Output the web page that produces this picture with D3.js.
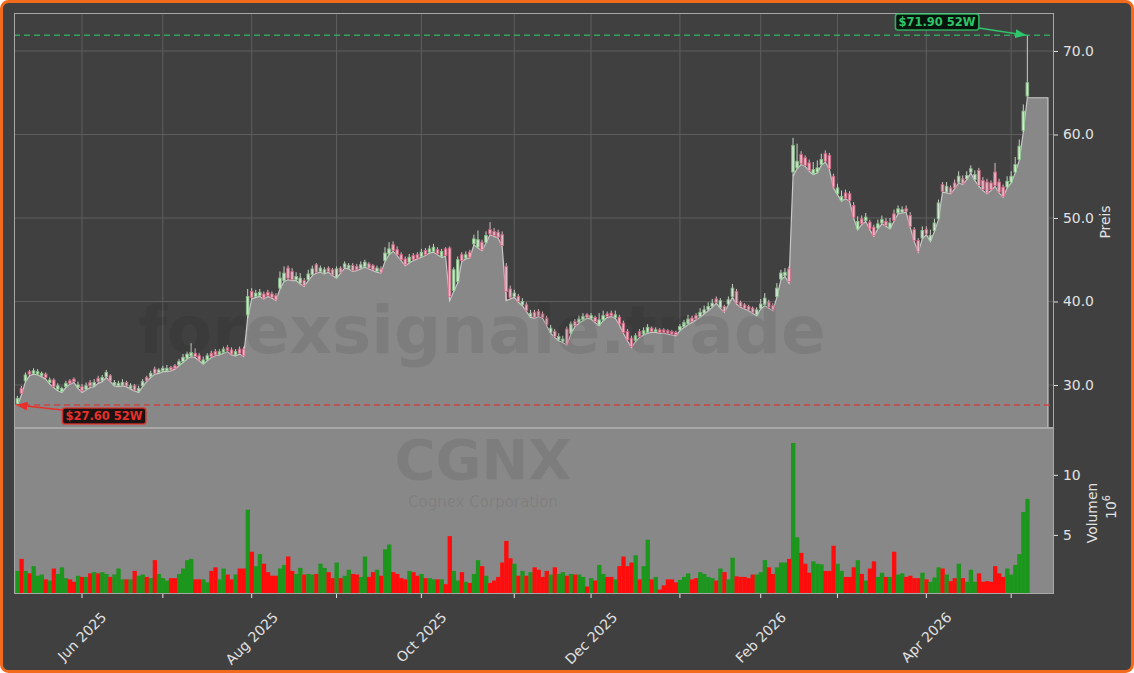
<!DOCTYPE html>
<html><head><meta charset="utf-8">
<script src="https://cdn.jsdelivr.net/npm/d3@7"></script>
<style>html,body{margin:0;padding:0;background:#ffffff;} svg{display:block;font-family:"DejaVu Sans",sans-serif;}</style>
</head><body><svg id="c" width="1134" height="673"></svg>
<script>
// ---- data (one entry per trading day, 8 May 2025 .. 7 May 2026) ----
const low = [27.6,28.8,30.4,31.1,31.3,31.2,31.0,30.7,30.1,29.7,
29.3,29.1,29.7,30.1,30.3,29.6,29.1,29.4,29.7,29.8,
30.2,30.4,30.9,30.4,29.9,29.8,29.9,29.8,29.5,29.3,
29.1,29.8,30.4,30.9,31.3,31.4,31.6,31.6,31.7,31.9,
32.3,32.7,33.1,33.4,33.3,32.9,32.5,32.9,33.3,33.5,
33.6,33.8,34.0,33.6,33.5,33.7,33.4,38.0,40.3,40.5,
40.6,40.3,40.6,40.4,40.1,41.5,42.4,42.6,42.5,42.5,
42.1,41.8,42.5,43.1,43.4,43.5,43.3,43.5,43.1,42.8,
43.4,44.0,43.9,43.6,43.7,43.9,44.1,43.9,43.7,43.5,
43.4,44.8,45.6,46.0,45.5,44.9,44.3,44.6,44.9,45.1,
45.3,45.5,45.8,45.9,45.6,45.3,45.4,40.1,41.2,42.2,
44.8,45.1,45.2,46.8,46.4,46.1,47.0,48.0,47.8,47.6,
46.6,40.1,40.3,40.5,39.9,39.5,38.8,38.1,38.0,38.2,
38.0,37.1,36.2,35.7,35.3,35.1,34.8,36.1,37.0,37.4,
37.7,38.0,37.9,37.5,37.1,37.7,38.1,38.2,38.0,37.2,
36.2,35.3,34.5,35.2,35.7,36.0,36.2,36.3,36.3,36.2,
36.2,36.1,36.0,35.9,36.5,36.9,37.2,37.5,37.8,38.1,
38.5,38.9,39.3,39.8,39.2,38.7,39.6,40.5,39.7,39.3,
39.1,38.9,38.6,38.3,39.1,39.5,39.2,38.9,40.5,42.6,
43.0,42.2,55.0,55.9,56.4,56.2,55.6,55.2,55.4,56.3,
56.7,55.8,53.6,52.8,52.0,52.3,52.0,50.0,48.6,49.2,
49.6,48.6,47.8,48.7,49.3,49.0,48.7,49.6,50.5,50.6,
50.7,48.9,47.2,45.9,47.5,48.0,47.2,48.4,49.8,53.1,
53.0,52.9,53.5,54.2,54.0,54.6,55.4,54.5,53.8,53.3,
52.9,53.3,53.8,53.0,52.5,53.6,54.2,55.4,56.9,60.3,
64.4];
const open = [27.8,29.6,30.5,31.6,31.4,31.3,31.1,31.3,30.3,30.6,
29.5,29.2,29.8,30.5,30.7,29.7,29.8,29.5,30.3,29.9,
30.8,30.5,31.0,31.1,30.0,29.9,30.0,30.3,29.6,29.9,
29.2,29.9,30.9,31.0,31.9,31.5,31.7,31.7,32.1,32.3,
32.4,32.8,33.2,33.5,33.8,33.5,32.6,33.0,33.8,34.0,
33.7,33.9,34.5,34.2,33.6,34.3,34.3,38.4,41.2,40.6,
40.7,40.9,41.1,40.9,40.7,41.6,42.5,44.0,43.6,42.6,
42.2,42.5,42.6,43.2,44.4,43.6,43.4,44.0,43.8,42.9,
44.0,44.1,44.0,44.3,44.2,44.0,44.2,44.5,44.3,43.6,
43.9,44.9,45.7,46.8,46.2,45.6,45.1,44.7,45.5,45.6,
45.4,46.1,45.9,46.0,46.2,45.4,46.3,46.4,41.3,42.4,
45.6,45.2,45.9,46.9,46.5,47.1,47.1,48.6,48.4,48.3,
48.0,44.2,41.5,40.6,40.6,39.6,39.6,38.2,38.7,38.8,
38.5,38.0,36.3,36.4,35.4,35.2,36.7,36.2,37.6,37.5,
37.8,38.4,38.0,38.1,37.2,37.8,38.5,38.6,38.1,38.1,
37.4,36.4,35.6,35.3,36.4,36.1,36.3,36.8,36.4,36.6,
36.6,36.5,36.4,36.3,36.6,37.0,37.3,38.0,38.3,38.2,
38.6,39.0,39.4,40.3,39.3,39.4,39.7,40.6,41.2,39.9,
39.6,39.4,39.2,38.4,39.2,39.6,39.9,39.5,40.6,42.7,
43.1,43.9,55.5,56.0,57.6,57.2,56.6,55.3,55.5,56.4,
57.7,57.5,55.0,52.9,52.1,53.0,52.9,51.5,48.7,49.9,
49.7,49.5,48.9,48.8,49.4,49.6,48.8,50.5,50.6,50.7,
51.1,50.3,48.6,47.3,47.6,48.6,47.3,48.5,49.9,54.0,
53.1,53.6,54.2,54.3,54.7,54.7,55.5,54.6,55.7,54.5,
54.3,54.2,55.5,54.3,53.7,53.7,54.3,55.5,57.0,60.5,
64.6];
const close = [28.4,29.0,31.2,31.3,31.7,31.6,31.4,30.9,30.6,29.8,
29.9,29.6,30.2,30.2,30.4,30.0,29.3,29.9,29.9,30.3,
30.4,30.9,31.5,30.5,30.3,30.2,30.3,29.9,29.9,29.4,
29.6,30.4,30.5,31.4,31.4,31.8,32.0,32.0,31.8,32.0,
32.8,33.3,33.7,33.9,33.4,33.0,33.0,33.5,33.4,33.6,
34.0,34.3,34.1,33.7,34.0,33.8,33.5,40.6,40.5,41.0,
41.1,40.4,40.7,40.5,40.2,42.8,43.4,42.8,42.6,43.0,
42.8,41.9,43.3,43.9,43.5,44.0,43.8,43.6,43.2,43.9,
43.5,44.5,44.3,43.7,43.8,44.4,44.7,44.0,43.8,44.0,
43.5,45.8,46.3,46.1,45.6,45.0,44.4,45.3,45.0,45.2,
45.9,45.6,46.3,46.5,45.7,46.0,45.5,40.6,43.8,45.0,
44.9,45.6,45.3,47.5,47.4,46.2,47.9,48.1,47.9,47.7,
46.7,41.2,40.5,41.0,40.0,40.0,38.9,38.6,38.1,38.3,
38.1,37.2,36.8,35.8,35.8,35.5,34.9,37.3,37.1,37.9,
38.2,38.1,38.3,37.6,37.8,38.3,38.2,38.3,38.4,37.3,
36.3,35.4,34.6,35.9,35.8,36.5,36.9,36.4,36.6,36.3,
36.3,36.2,36.1,36.0,37.0,37.5,37.9,37.6,37.9,38.7,
39.0,39.4,39.8,39.9,40.1,38.8,40.2,41.6,39.8,39.4,
39.2,39.0,38.7,39.0,39.7,40.4,39.3,39.0,41.6,43.4,
43.5,42.4,58.7,56.8,56.5,56.3,55.7,55.8,56.0,57.0,
56.8,55.9,53.7,53.6,52.6,52.4,52.1,50.1,49.6,49.3,
50.1,48.7,47.9,49.3,49.8,49.1,49.4,49.7,51.1,51.0,
50.8,49.0,47.3,46.0,48.5,48.1,47.9,49.4,51.8,53.2,
53.8,53.0,53.6,55.0,54.1,55.1,55.9,55.2,53.9,53.4,
53.0,53.4,53.9,53.1,52.6,54.4,55.0,56.4,58.6,62.8,
66.2];
const high = [28.7,29.9,31.5,31.8,32.0,31.9,31.6,31.5,30.9,30.8,
30.2,29.8,30.5,30.7,30.9,30.4,30.1,30.3,30.6,30.7,
31.1,31.2,31.8,31.3,30.6,30.5,30.7,30.5,30.2,30.1,
29.9,30.7,31.1,31.7,32.2,32.0,32.3,32.4,32.3,32.5,
33.1,33.7,34.0,35.0,34.4,33.8,33.4,33.8,34.1,34.3,
34.3,34.6,34.8,34.5,34.3,34.6,34.6,41.5,41.6,41.4,
41.5,41.2,41.4,41.2,41.0,43.6,44.2,44.3,44.0,43.5,
43.4,42.8,43.8,44.3,44.6,44.3,44.1,44.2,44.0,44.2,
44.2,44.8,44.6,44.6,44.5,44.8,45.0,44.7,44.5,44.3,
44.2,46.5,47.1,47.2,46.6,45.9,45.4,45.7,45.8,45.9,
46.3,46.4,46.7,46.9,46.5,46.3,46.5,46.6,44.1,45.4,
45.9,46.0,46.2,48.0,48.5,47.4,48.4,49.5,48.8,48.6,
48.4,44.6,41.9,41.4,40.9,40.4,39.9,39.0,39.0,39.1,
38.8,38.3,37.2,36.7,36.2,35.9,37.0,37.6,37.9,38.3,
38.6,38.6,38.6,38.3,38.6,38.9,38.8,38.9,38.9,38.4,
37.7,36.7,35.9,36.2,36.7,36.9,37.3,37.0,36.9,36.8,
36.8,36.7,36.6,36.5,37.3,37.8,38.4,38.3,38.6,39.2,
39.5,39.9,40.3,40.6,40.4,39.6,40.6,42.1,41.5,40.1,
39.8,39.6,39.4,39.3,40.3,41.0,40.2,39.8,42.2,43.8,
44.0,44.2,59.6,58.9,58.0,57.5,57.0,56.7,56.9,57.7,
58.1,57.8,55.3,54.1,53.3,53.4,53.2,51.9,50.2,50.3,
50.6,49.8,49.2,49.8,50.3,50.0,50.0,51.0,51.5,51.4,
51.5,50.7,48.9,47.6,49.0,49.0,48.6,49.9,52.2,54.3,
54.3,53.9,54.6,55.6,55.1,55.6,56.3,55.7,56.0,54.9,
54.7,54.5,56.6,54.7,54.0,55.0,55.6,57.3,59.4,63.6,
71.9];
const volume = [2.0,3.0,2.0,1.8,2.4,1.6,1.7,1.3,1.2,2.2,
1.75,2.3,1.4,1.3,1.1,1.6,1.5,1.5,1.8,1.9,
1.8,1.9,1.75,1.5,1.7,2.2,1.3,1.3,1.3,2.0,
1.6,1.7,1.5,1.4,2.9,1.75,1.4,1.2,1.4,1.4,
1.75,2.2,2.9,3.0,1.3,1.3,1.3,1.05,2.0,2.3,
1.3,2.2,1.7,1.3,1.7,2.2,2.2,7.1,3.6,2.4,
3.4,2.6,1.9,1.6,1.6,2.2,2.5,3.2,2.0,1.75,
2.25,1.7,1.75,1.7,1.75,2.6,2.25,1.9,1.4,2.7,
1.4,1.6,2.1,1.75,1.7,1.5,3.2,1.5,1.9,2.1,
1.6,3.8,4.2,1.9,1.75,1.4,1.3,2.0,1.9,1.6,
1.75,1.4,1.4,1.3,1.3,1.3,0.9,4.9,2.0,1.2,
1.9,1.1,1.0,1.75,2.9,2.4,1.6,1.0,1.2,1.5,
2.7,4.5,3.05,2.6,1.6,2.0,1.6,1.9,2.3,2.1,
1.5,2.0,1.7,2.3,1.75,1.9,1.6,1.75,1.7,1.7,
1.5,0.7,1.4,1.2,2.5,1.75,1.5,1.5,1.3,2.4,
3.2,2.4,2.7,3.3,1.3,2.4,4.6,1.3,1.5,0.45,
0.8,1.3,1.3,1.05,1.25,1.5,1.8,1.3,1.4,1.9,
1.75,1.5,1.4,1.2,2.2,1.9,1.3,3.1,1.55,1.5,
1.5,1.4,1.7,1.7,1.9,2.9,2.3,1.75,2.3,2.7,
2.7,3.0,12.65,4.8,3.5,2.6,1.85,2.8,2.6,2.55,
2.0,2.0,4.1,2.6,2.0,1.5,1.5,2.3,2.9,1.75,
1.2,2.2,2.8,1.5,1.85,1.5,1.5,3.6,1.7,1.8,
1.5,1.6,1.4,1.4,1.85,1.3,1.1,1.45,2.3,2.2,
1.7,1.15,1.4,2.6,1.4,1.1,2.1,1.1,1.8,1.1,
1.15,1.1,2.4,1.8,1.5,2.2,1.7,2.5,3.4,6.9,
8.0];
const monthTickIdx = [16,36,58,79,100,123,142,164,184,203,225,246];
const monthTickLabels = ["Jun 2025","","Aug 2025","","Oct 2025","","Dec 2025","","Feb 2026","","Apr 2026",""];
const priceTicks = [30,40,50,60,70];
const volumeTicks = [5,10];
const high52 = 71.90, low52 = 27.60;
const ticker = "CGNX", company = "Cognex Corporation", watermark = "forexsignale.trade";

// ---- layout ----
const W=1134, H=673;
const L=14, R=1054, PT=13, PB=428, VT=428, VB=594;
const svg = d3.select("#c");
svg.append("rect").attr("x",1.5).attr("y",1.5).attr("width",W-3).attr("height",H-3)
  .attr("rx",7).attr("fill","#404040").attr("stroke","#f26a1b").attr("stroke-width",3);

const n = close.length;
const x = d3.scaleLinear().domain([-0.84, 256.6]).range([L, R]);
const yP = d3.scaleLinear().domain([24.85, 74.55]).range([PB, PT]);
const yV = d3.scaleLinear().domain([0.08, 13.9]).range([VB, VT]);

const defs = svg.append("defs");
defs.append("clipPath").attr("id","cp").append("rect").attr("x",L).attr("y",PT).attr("width",R-L).attr("height",PB-PT);
defs.append("clipPath").attr("id","cv").append("rect").attr("x",L).attr("y",VT).attr("width",R-L).attr("height",VB-VT);
const mk = (id,col)=>defs.append("marker").attr("id",id).attr("viewBox","0 0 10 10").attr("refX",9).attr("refY",5)
  .attr("markerWidth",7).attr("markerHeight",7).attr("orient","auto-start-reverse")
  .append("path").attr("d","M0,1 L10,5 L0,9 z").attr("fill",col);
mk("ag","#2fc56a"); mk("ar","#e8302a");

// ---- price panel ----
const gP = svg.append("g");
gP.selectAll("line.hg").data(priceTicks).join("line").attr("x1",L).attr("x2",R)
  .attr("y1",d=>yP(d)).attr("y2",d=>yP(d)).attr("stroke","#5e5e5e").attr("stroke-width",1);
gP.selectAll("line.vg").data(monthTickIdx).join("line").attr("x1",d=>x(d)).attr("x2",d=>x(d))
  .attr("y1",PT).attr("y2",PB).attr("stroke","#5e5e5e").attr("stroke-width",1);

const plot = gP.append("g").attr("clip-path","url(#cp)");
const pts = [{i:x.domain()[0], v:low[0]}].concat(low.map((v,i)=>({i, v}))).concat([{i:255.1, v:low[n-1]}]);
plot.append("path").datum(pts)
  .attr("d", d3.area().x(d=>x(d.i)).y0(PB).y1(d=>yP(d.v)))
  .attr("fill","#888888");
const linePts = pts.map(d=>[x(d.i), yP(d.v)]).concat([[x(255.1), PB]]);
plot.append("path").attr("d", d3.line()(linePts)).attr("fill","none").attr("stroke","#c8c8c8").attr("stroke-width",1.2);

// candles
const cw = 2.6;
const cg = plot.append("g").attr("opacity",0.9);
d3.range(n).forEach(i=>{
  const up = close[i] >= open[i];
  const edge = up ? "#8ccc8c" : "#de6a8a";
  const fill = up ? "#e2f2e2" : "#f2c6d1";
  const wick = up ? "#d4e4d4" : "#e8c8d0";
  cg.append("line").attr("x1",x(i)).attr("x2",x(i)).attr("y1",yP(high[i])).attr("y2",yP(low[i]))
    .attr("stroke",wick).attr("stroke-width",1);
  const top = yP(Math.max(open[i],close[i])), bot = yP(Math.min(open[i],close[i]));
  cg.append("rect").attr("x",x(i)-cw/2).attr("y",top).attr("width",cw).attr("height",Math.max(0.8,bot-top))
    .attr("fill",fill).attr("stroke",edge).attr("stroke-width",0.9);
});

// 52W lines
plot.append("line").attr("x1",L).attr("x2",R).attr("y1",yP(high52)).attr("y2",yP(high52))
  .attr("stroke","#2fb864").attr("stroke-width",1.5).attr("stroke-dasharray","6,4").attr("opacity",0.85);
plot.append("line").attr("x1",L).attr("x2",R).attr("y1",yP(low52)).attr("y2",yP(low52))
  .attr("stroke","#d83a36").attr("stroke-width",1.5).attr("stroke-dasharray","6,4").attr("opacity",0.85);

gP.append("rect").attr("x",L+0.5).attr("y",PT+0.5).attr("width",R-L-1).attr("height",PB-PT-1)
  .attr("fill","none").attr("stroke","#a8a8a8").attr("stroke-width",1);

// right price axis
const tickCol = "#e2e2e2";
const yax = svg.append("g").attr("transform",`translate(${R},0)`)
  .call(d3.axisRight(yP).tickValues(priceTicks).tickFormat(d3.format(".1f")).tickSize(4).tickPadding(5));
yax.select(".domain").remove();
yax.selectAll("line").attr("stroke",tickCol);
yax.selectAll("text").attr("fill",tickCol).attr("font-size","13.9px").attr("font-family","DejaVu Sans");
svg.append("text").attr("transform",`translate(1110,222) rotate(-90)`).attr("text-anchor","middle")
  .attr("fill",tickCol).attr("font-size","13.9px").text("Preis");

// ---- volume panel ----
svg.append("rect").attr("x",L).attr("y",VT).attr("width",R-L).attr("height",VB-VT).attr("fill","#888888");
const vg = svg.append("g").attr("clip-path","url(#cv)");
vg.selectAll("rect").data(volume).join("rect")
  .attr("x",(d,i)=>x(i-0.5)).attr("width",(d,i)=>x(i+0.5)-x(i-0.5)+0.3)
  .attr("y",d=>yV(d)).attr("height",d=>VB-yV(d))
  .attr("fill",(d,i)=> close[i]>=open[i] ? "#1c961c" : "#ff0d0d");
svg.append("rect").attr("x",L+0.5).attr("y",VT+0.5).attr("width",R-L-1).attr("height",VB-VT-1)
  .attr("fill","none").attr("stroke","#a8a8a8").attr("stroke-width",1);

const vax = svg.append("g").attr("transform",`translate(${R},0)`)
  .call(d3.axisRight(yV).tickValues(volumeTicks).tickFormat(d3.format("d")).tickSize(4).tickPadding(5));
vax.select(".domain").remove();
vax.selectAll("line").attr("stroke",tickCol);
vax.selectAll("text").attr("fill",tickCol).attr("font-size","13.9px").attr("font-family","DejaVu Sans");
svg.append("text").attr("transform",`translate(1097,513) rotate(-90)`).attr("text-anchor","middle")
  .attr("fill",tickCol).attr("font-size","13.9px").text("Volumen");
const off = svg.append("text").attr("transform",`translate(1116,507) rotate(-90)`).attr("text-anchor","middle")
  .attr("fill",tickCol).attr("font-size","13.9px");
off.append("tspan").text("10");
off.append("tspan").attr("font-size","9.7px").attr("dy","-6").text("6");

// x axis
const xg = svg.append("g");
monthTickIdx.forEach((t,k)=>{
  const px = x(t);
  xg.append("line").attr("x1",px).attr("x2",px).attr("y1",VB).attr("y2",VB+4).attr("stroke",tickCol);
  const lab = monthTickLabels[k];
  if (!lab) return;
  const tx = xg.append("text").attr("font-size","13.9px").attr("fill",tickCol)
    .attr("text-anchor","middle").attr("dominant-baseline","central").text(lab);
  const w = tx.node().getComputedTextLength();
  const h = (w + 13.9*1.15) * Math.SQRT1_2;
  tx.attr("transform",`translate(${px},${609 + h/2}) rotate(-45)`);
});

// ---- annotations ----
function badge(cx, cy, text, col, bg){
  const g = svg.append("g");
  const t = g.append("text").attr("x",cx).attr("y",cy).attr("text-anchor","middle").attr("dominant-baseline","central")
    .attr("font-size","11.5px").attr("font-weight","bold").attr("fill",col).text(text);
  const bb = t.node().getBBox();
  g.insert("rect","text").attr("x",bb.x-3).attr("y",bb.y-1).attr("width",bb.width+6).attr("height",bb.height+2)
    .attr("rx",2.5).attr("fill",bg).attr("stroke",col).attr("stroke-width",1.6).attr("stroke-opacity",0.85);
  return bb;
}
const bH = badge(937, 22, `$${high52.toFixed(2)} 52W`, "#2fc56a", "#07140b");
svg.append("line").attr("x1",bH.x+bH.width+3).attr("y1",28).attr("x2",x(n-1)-2).attr("y2",yP(high52))
  .attr("stroke","#2fc56a").attr("stroke-width",1.6).attr("marker-end","url(#ag)");
const bL = badge(104, 416, `$${low52.toFixed(2)} 52W`, "#e8302a", "#1b1212");
svg.append("line").attr("x1",bL.x-3).attr("y1",410).attr("x2",x(0)).attr("y2",yP(low52))
  .attr("stroke","#e8302a").attr("stroke-width",1.6).attr("marker-end","url(#ar)");

// ---- watermarks ----
svg.append("text").attr("x",482).attr("y",353).attr("text-anchor","middle").attr("font-size","66px")
  .attr("font-weight","bold").attr("fill","#000").attr("fill-opacity",0.08).text(watermark);
svg.append("text").attr("x",483).attr("y",479).attr("text-anchor","middle").attr("font-size","56px")
  .attr("font-weight","bold").attr("fill","#000").attr("fill-opacity",0.08).text(ticker);
svg.append("text").attr("x",483).attr("y",507).attr("text-anchor","middle").attr("font-size","15px")
  .attr("fill","#000").attr("fill-opacity",0.08).text(company);
</script></body></html>
